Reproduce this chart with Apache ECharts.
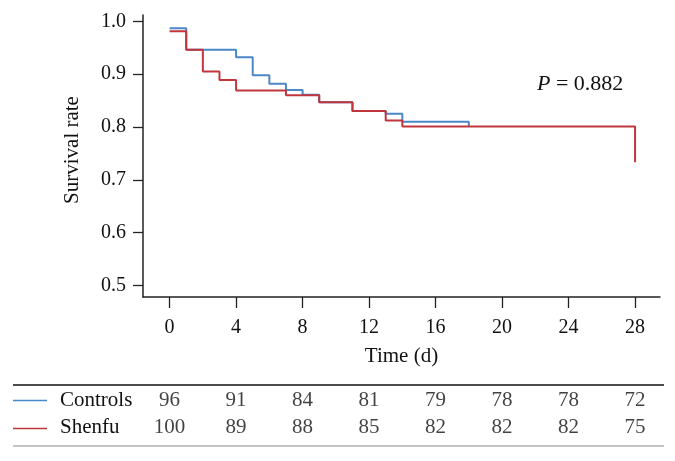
<!DOCTYPE html>
<html>
<head>
<meta charset="utf-8">
<script src="https://cdn.jsdelivr.net/npm/echarts@6/dist/echarts.min.js"></script>
<style>html,body{margin:0;padding:0;background:#fff}#c{width:675px;height:461px}</style>
</head>
<body>
<div id="c"></div>
<script>
// ---- data ----
const timeTicks = [0, 4, 8, 12, 16, 20, 24, 28];
const survTicks = [0.5, 0.6, 0.7, 0.8, 0.9, 1.0];
const groups = ['Controls', 'Shenfu'];
const controlsTime = [0, 1, 4, 5, 6, 7, 8, 9, 11, 13, 14, 18];
const controlsSurv = [0.987, 0.946, 0.932, 0.898, 0.882, 0.870, 0.861, 0.847, 0.830, 0.825, 0.810, 0.801];
const shenfuTime = [0, 1, 2, 3, 4, 7, 9, 11, 13, 14, 28];
const shenfuSurv = [0.981, 0.946, 0.905, 0.889, 0.869, 0.860, 0.847, 0.830, 0.812, 0.801, 0.733];
const controlsAtRisk = [96, 91, 84, 81, 79, 78, 78, 72];
const shenfuAtRisk = [100, 89, 88, 85, 82, 82, 82, 75];
const pText = '0.882';

const FONT = 'Liberation Serif';
const BLUE = '#4a88c7';
const RED = '#c0363c';

const pairs = (xs, ys) => xs.map((x, i) => [x, ys[i]]);
const tableData = [];
controlsAtRisk.forEach((n, i) => tableData.push([timeTicks[i], groups[0], n]));
shenfuAtRisk.forEach((n, i) => tableData.push([timeTicks[i], groups[1], n]));

const chart = echarts.init(document.getElementById('c'));
chart.setOption({
  animation: false,
  textStyle: { fontFamily: FONT },
  grid: [
    { left: 143, right: 15, top: 15, bottom: 164 },
    { left: 143, right: 15, top: 387, height: 54 }
  ],
  xAxis: [
    {
      type: 'value', gridIndex: 0, min: -1.6, max: 29.5,
      name: 'Time (d)', nameLocation: 'middle', nameGap: 49,
      nameTextStyle: { fontFamily: FONT, fontSize: 21, color: '#111' },
      axisLine: { onZero: false, lineStyle: { color: '#222', width: 1.5 } },
      axisTick: { show: true, length: 11, lineStyle: { color: '#222', width: 1.3 }, customValues: timeTicks },
      axisLabel: { fontFamily: FONT, fontSize: 20, color: '#111', margin: 21, customValues: timeTicks },
      splitLine: { show: false }
    },
    {
      type: 'value', gridIndex: 1, min: -1.6, max: 29.5,
      show: false
    }
  ],
  yAxis: [
    {
      type: 'value', gridIndex: 0, min: 0.478, max: 1.012,
      axisLine: { show: true, onZero: false, lineStyle: { color: '#222', width: 1.5 } },
      axisTick: { show: true, length: 10, lineStyle: { color: '#222', width: 1.3 }, customValues: survTicks },
      axisLabel: { fontFamily: FONT, fontSize: 20, color: '#111', margin: 17, customValues: survTicks,
        formatter: v => v.toFixed(1) },
      splitLine: { show: false }
    },
    {
      type: 'category', gridIndex: 1, data: groups, inverse: true,
      axisLine: { show: false }, axisTick: { show: false }, splitLine: { show: false },
      axisLabel: { fontFamily: FONT, fontSize: 21, color: '#111', align: 'left', margin: 83, interval: 0 }
    }
  ],
  series: [
    {
      name: groups[0], type: 'line', step: 'end', xAxisIndex: 0, yAxisIndex: 0,
      data: pairs(controlsTime, controlsSurv), showSymbol: false, symbol: 'none',
      lineStyle: { color: BLUE, width: 2 }, z: 2
    },
    {
      name: groups[1], type: 'line', step: 'end', xAxisIndex: 0, yAxisIndex: 0,
      data: pairs(shenfuTime, shenfuSurv), showSymbol: false, symbol: 'none',
      lineStyle: { color: RED, width: 2 }, z: 3
    },
    {
      type: 'scatter', xAxisIndex: 1, yAxisIndex: 1, data: tableData,
      symbolSize: 0, silent: true,
      label: { show: true, position: 'inside', fontFamily: FONT, fontSize: 21, color: '#111',
        formatter: p => String(p.value[2]) }
    }
  ],
  graphic: [
    { type: 'text', x: 72, y: 150, rotation: Math.PI / 2,
      style: { text: 'Survival rate', font: '21px "Liberation Serif"', fill: '#111', align: 'center', verticalAlign: 'middle' } },
    { type: 'text', x: 537, y: 84,
      style: { text: '{i|P} = ' + pText, align: 'left', verticalAlign: 'middle', fill: '#111',
        font: '22px "Liberation Serif"',
        rich: { i: { fontStyle: 'italic', fontFamily: FONT, fontSize: 22, fill: '#111' } } } },
    { type: 'line', shape: { x1: 13, y1: 385, x2: 664, y2: 385 }, style: { stroke: '#111', lineWidth: 1.6 } },
    { type: 'line', shape: { x1: 13, y1: 446, x2: 664, y2: 446 }, style: { stroke: '#888', lineWidth: 1.2 } },
    { type: 'line', shape: { x1: 13, y1: 400.5, x2: 47, y2: 400.5 }, style: { stroke: BLUE, lineWidth: 1.5 } },
    { type: 'line', shape: { x1: 13, y1: 428.5, x2: 47, y2: 428.5 }, style: { stroke: RED, lineWidth: 1.5 } }
  ]
});
</script>
</body>
</html>
